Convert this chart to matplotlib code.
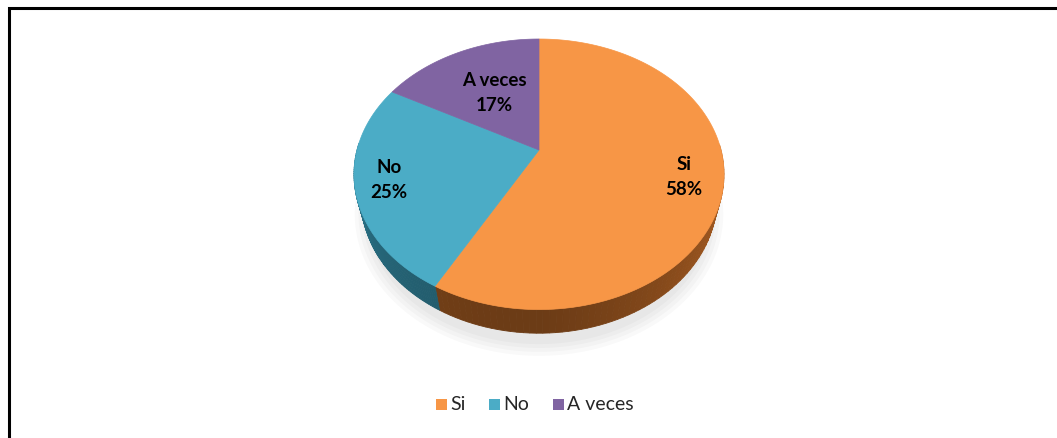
"""3D-style pie: Si / No / A veces."""

import numpy as np
import matplotlib.pyplot as plt
from matplotlib.patches import Polygon, Rectangle

labels = ["Si", "No", "A veces"]
shares = [58, 25, 17]
top_colors = ["#F79646", "#4BACC6", "#8064A2"]
side_colors = ["#9A551F", "#2F7F96", "#54407A"]

W, H = 1057, 438
CX, CY = 539, 150          # where the slices meet
S = 182                    # px per unit radius
TILT = np.radians(46)
DIST = 3.87
DEPTH = 0.21


def project(u, w, z=0.0):
    # camera tilted down by TILT, simple perspective
    s, c = np.sin(TILT), np.cos(TILT)
    d = DIST + w * c - z * s
    x = u * DIST / d
    y = (w * s + z * c) * DIST / d
    return CX + S * x, CY - S * y


def shade(hex_color, f):
    rgb = np.array([int(hex_color[i:i + 2], 16) for i in (1, 3, 5)]) / 255
    return tuple(np.clip(rgb * f, 0, 1))


fig = plt.figure(figsize=(W / 100, H / 100), dpi=100)
ax = fig.add_axes([0, 0, 1, 1])
ax.set_xlim(0, W)
ax.set_ylim(H, 0)
ax.axis("off")

# faint shadow peeking out under the front edge
t = np.linspace(0, 2 * np.pi, 200)
for k in range(4):
    r = 0.97 + 0.02 * k
    px, py = project(r * np.sin(t), r * np.cos(t) - 0.06, -DEPTH - 0.03)
    ax.add_patch(Polygon(np.column_stack([px, py + 2]), closed=True,
                         facecolor="black", edgecolor="none", alpha=0.025, zorder=1))

bounds = np.cumsum([0] + shares) / sum(shares) * 2 * np.pi

# side walls, drawn as narrow strips so they can be shaded
for i in range(len(shares)):
    th = np.linspace(bounds[i], bounds[i + 1], 120)
    for a0, a1 in zip(th[:-1], th[1:]):
        am = (a0 + a1) / 2
        if np.cos(am) > 0.05:
            continue
        f = 0.95 - 0.25 * max(0.0, -np.cos(am)) + 0.2 * max(0.0, np.sin(am))
        xs, ys = [], []
        for a, z in [(a0, 0), (a1, 0), (a1, -DEPTH), (a0, -DEPTH)]:
            x, y = project(np.sin(a), np.cos(a), z)
            xs.append(x)
            ys.append(y)
        col = shade(side_colors[i], f)
        ax.add_patch(Polygon(np.column_stack([xs, ys]), closed=True,
                             facecolor=col, edgecolor=col, lw=0.6, zorder=2))

# top faces
for i in range(len(shares)):
    th = np.linspace(bounds[i], bounds[i + 1], 200)
    px, py = project(np.sin(th), np.cos(th))
    px = np.concatenate([[CX], px])
    py = np.concatenate([[CY], py])
    ax.add_patch(Polygon(np.column_stack([px, py]), closed=True,
                         facecolor=top_colors[i], edgecolor=top_colors[i],
                         lw=0.5, zorder=3))

# data labels
label_pos = [(684, 177), (389, 180), (494, 93)]
for lab, val, (lx, ly) in zip(labels, shares, label_pos):
    ax.text(lx, ly, f"{lab}\n{val}%", ha="center", va="center",
            fontsize=13.5, fontweight="bold", family="Lato",
            linespacing=1.6, color="black", zorder=5)

# legend
lx = 436
for lab, col in zip(labels, top_colors):
    ax.add_patch(Rectangle((lx, 399), 11, 11, facecolor=col, edgecolor="none"))
    t = ax.text(lx + 14, 405, lab, ha="left", va="center", fontsize=14,
                family="Lato", color="#262626")
    fig.canvas.draw()
    bb = t.get_window_extent()
    lx = bb.x1 + 24

# frame: only left and top edges are visible in the crop
ax.plot([9, 9, W], [H, 8, 8], color="black", lw=2.2, solid_capstyle="butt",
        solid_joinstyle="miter", zorder=6)

fig.savefig("out.png", dpi=100)
